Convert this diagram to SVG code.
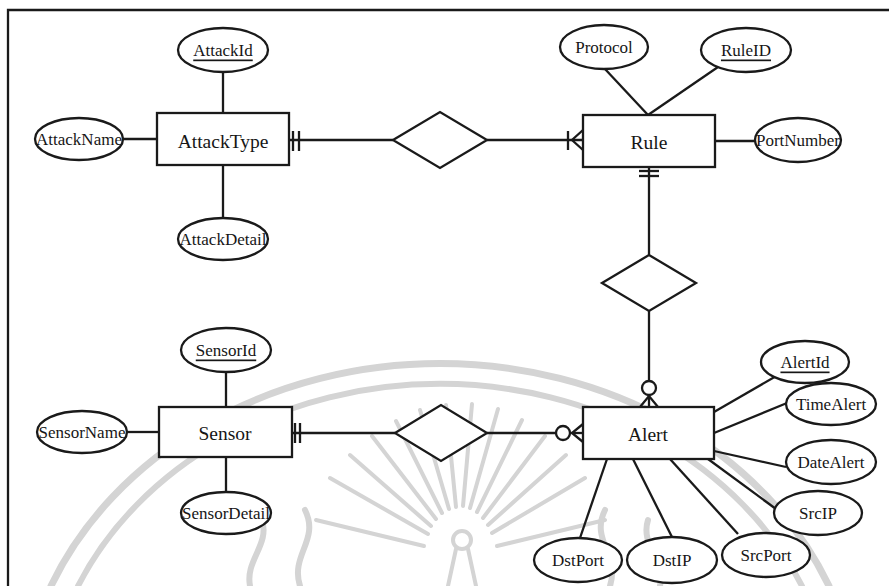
<svg xmlns="http://www.w3.org/2000/svg" width="889" height="586" viewBox="0 0 889 586">
  <style>
    .ent rect { fill: #ffffff; stroke: #1a1a1a; stroke-width: 2.3; }
    .attr ellipse { fill: #ffffff; stroke: #1a1a1a; stroke-width: 2.3; }
    .rel polygon { fill: #ffffff; stroke: #1a1a1a; stroke-width: 2.3; }
    .ent text { font-family: "Liberation Serif", "Times New Roman", serif; font-size: 19.5px; fill: #161616; text-anchor: middle; dominant-baseline: central; }
    .attr text { font-family: "Liberation Serif", "Times New Roman", serif; font-size: 17px; fill: #161616; text-anchor: middle; dominant-baseline: central; }
    .key { text-decoration: underline; }
    .links line, .links path { stroke: #1a1a1a; stroke-width: 2.3; fill: none; }
    .links circle { fill: #ffffff; stroke: #1a1a1a; stroke-width: 2.3; }
    .wm { stroke: #d4d4d4; fill: none; stroke-linecap: round; }
  </style>

  <rect x="0" y="0" width="889" height="586" fill="#ffffff"/>

  <!-- faint emblem in the background -->
  <g id="watermark" class="wm">
    <path d="M 51 586 A 420 357 0 0 1 829 586" stroke-width="7"/>
    <path d="M 78 586 A 395 337 0 0 1 802 586" stroke-width="6"/>
    <g stroke-width="4">
      <line x1="428" y1="534" x2="330" y2="478"/>
      <line x1="431" y1="526" x2="350" y2="455"/>
      <line x1="436" y1="519" x2="372" y2="436"/>
      <line x1="442" y1="513" x2="396" y2="421"/>
      <line x1="449" y1="509" x2="420" y2="410"/>
      <line x1="456" y1="507" x2="446" y2="405"/>
      <line x1="463" y1="506" x2="472" y2="404"/>
      <line x1="470" y1="508" x2="498" y2="409"/>
      <line x1="477" y1="512" x2="522" y2="420"/>
      <line x1="483" y1="518" x2="545" y2="436"/>
      <line x1="488" y1="525" x2="566" y2="455"/>
      <line x1="492" y1="533" x2="585" y2="478"/>
      <line x1="424" y1="546" x2="316" y2="520"/>
      <line x1="497" y1="546" x2="605" y2="520"/>
    </g>
    <circle cx="462" cy="540" r="9" stroke-width="4"/>
    <path d="M 456 549 L 448 586 M 468 549 L 476 586" stroke-width="4"/>
    <path d="M 250 586 C 245 560 270 545 262 520 M 660 586 C 665 560 640 545 648 520" stroke-width="6"/>
    <path d="M 300 586 C 290 555 320 540 305 510 M 610 586 C 620 555 590 540 605 510" stroke-width="6"/>
  </g>

  <!-- page frame -->
  <path d="M 8 586 L 8 10 L 889 10" fill="none" stroke="#1a1a1a" stroke-width="2.3"/>

  <!-- connectors -->
  <g id="connectors" class="links">
    <!-- AttackType attributes -->
    <line x1="223" y1="72" x2="223" y2="113"/>
    <line x1="123" y1="139" x2="157" y2="139"/>
    <line x1="223" y1="165" x2="223" y2="218"/>
    <!-- Rule attributes -->
    <line x1="605" y1="69" x2="648" y2="115"/>
    <line x1="718" y1="67" x2="648" y2="115"/>
    <line x1="715" y1="141" x2="755" y2="141"/>
    <!-- Sensor attributes -->
    <line x1="226" y1="372" x2="226" y2="407"/>
    <line x1="127" y1="432" x2="159" y2="432"/>
    <line x1="226" y1="457" x2="226" y2="492"/>
    <!-- Alert attributes -->
    <line x1="714" y1="412" x2="778" y2="375"/>
    <line x1="714" y1="433" x2="787" y2="403"/>
    <line x1="714" y1="451" x2="786" y2="467"/>
    <line x1="708" y1="459" x2="776" y2="509"/>
    <line x1="670" y1="459" x2="738" y2="534"/>
    <line x1="633" y1="459" x2="672" y2="537"/>
    <line x1="607" y1="459" x2="580" y2="538"/>

    <!-- AttackType (exactly one) to Rule (one or more) -->
    <line x1="289" y1="140" x2="393" y2="140"/>
    <line x1="293" y1="131" x2="293" y2="151"/>
    <line x1="299" y1="131" x2="299" y2="151"/>
    <line x1="487" y1="140" x2="583" y2="140"/>
    <line x1="568" y1="131" x2="568" y2="150"/>
    <path d="M 583 130 L 572 140 L 583 150"/>

    <!-- Rule (exactly one) to Alert (zero or more) -->
    <line x1="649" y1="167" x2="649" y2="255"/>
    <line x1="639" y1="171" x2="659" y2="171"/>
    <line x1="639" y1="176" x2="659" y2="176"/>
    <line x1="649" y1="311" x2="649" y2="381"/>
    <circle cx="649" cy="388" r="7"/>
    <line x1="649" y1="395" x2="649" y2="407"/>
    <path d="M 640 407 L 649 396 L 658 407"/>

    <!-- Sensor (exactly one) to Alert (zero or more) -->
    <line x1="292" y1="433" x2="395" y2="433"/>
    <line x1="295" y1="423" x2="295" y2="443"/>
    <line x1="300" y1="423" x2="300" y2="443"/>
    <line x1="487" y1="433" x2="556" y2="433"/>
    <circle cx="563" cy="433" r="7"/>
    <line x1="570" y1="433" x2="583" y2="433"/>
    <path d="M 583 424 L 572 433 L 583 442"/>
  </g>

  <!-- relationships -->
  <g id="rel-attacktype-rule" class="rel"><polygon points="393,140 440,112 487,140 440,168"/></g>
  <g id="rel-rule-alert" class="rel"><polygon points="602,283 649,255 696,283 649,311"/></g>
  <g id="rel-sensor-alert" class="rel"><polygon points="395,433 441,405 487,433 441,461"/></g>

  <!-- entities -->
  <g id="AttackType" class="ent"><rect x="157" y="113" width="132" height="52"/><text x="223" y="141">AttackType</text></g>
  <g id="Rule" class="ent"><rect x="583" y="115" width="132" height="52"/><text x="649" y="142">Rule</text></g>
  <g id="Sensor" class="ent"><rect x="159" y="407" width="133" height="50"/><text x="225" y="433">Sensor</text></g>
  <g id="Alert" class="ent"><rect x="583" y="407" width="131" height="52"/><text x="648" y="434">Alert</text></g>

  <!-- attributes -->
  <g id="AttackId" class="attr"><ellipse cx="223" cy="50" rx="45" ry="22"/><text class="key" x="223" y="50">AttackId</text></g>
  <g id="AttackName" class="attr"><ellipse cx="79" cy="139" rx="44" ry="21"/><text x="79" y="139">AttackName</text></g>
  <g id="AttackDetail" class="attr"><ellipse cx="223" cy="239" rx="45" ry="21"/><text x="223" y="239">AttackDetail</text></g>

  <g id="Protocol" class="attr"><ellipse cx="604" cy="47" rx="44" ry="22"/><text x="604" y="47">Protocol</text></g>
  <g id="RuleID" class="attr"><ellipse cx="746" cy="50" rx="45" ry="22"/><text class="key" x="746" y="50">RuleID</text></g>
  <g id="PortNumber" class="attr"><ellipse cx="798" cy="140" rx="43" ry="22"/><text x="798" y="140">PortNumber</text></g>

  <g id="SensorId" class="attr"><ellipse cx="226" cy="350" rx="45" ry="22"/><text class="key" x="226" y="350">SensorId</text></g>
  <g id="SensorName" class="attr"><ellipse cx="82" cy="432" rx="45" ry="21"/><text x="82" y="432">SensorName</text></g>
  <g id="SensorDetail" class="attr"><ellipse cx="226" cy="513" rx="45" ry="21"/><text x="226" y="513">SensorDetail</text></g>

  <g id="AlertId" class="attr"><ellipse cx="805" cy="362" rx="44" ry="21"/><text class="key" x="805" y="362">AlertId</text></g>
  <g id="TimeAlert" class="attr"><ellipse cx="831" cy="404" rx="45" ry="21"/><text x="831" y="404">TimeAlert</text></g>
  <g id="DateAlert" class="attr"><ellipse cx="831" cy="462" rx="45" ry="22"/><text x="831" y="462">DateAlert</text></g>
  <g id="SrcIP" class="attr"><ellipse cx="818" cy="513" rx="44" ry="22"/><text x="818" y="513">SrcIP</text></g>
  <g id="SrcPort" class="attr"><ellipse cx="766" cy="555" rx="44" ry="22"/><text x="766" y="555">SrcPort</text></g>
  <g id="DstIP" class="attr"><ellipse cx="672" cy="560" rx="45" ry="23"/><text x="672" y="560">DstIP</text></g>
  <g id="DstPort" class="attr"><ellipse cx="578" cy="560" rx="44" ry="22"/><text x="578" y="560">DstPort</text></g>
</svg>
